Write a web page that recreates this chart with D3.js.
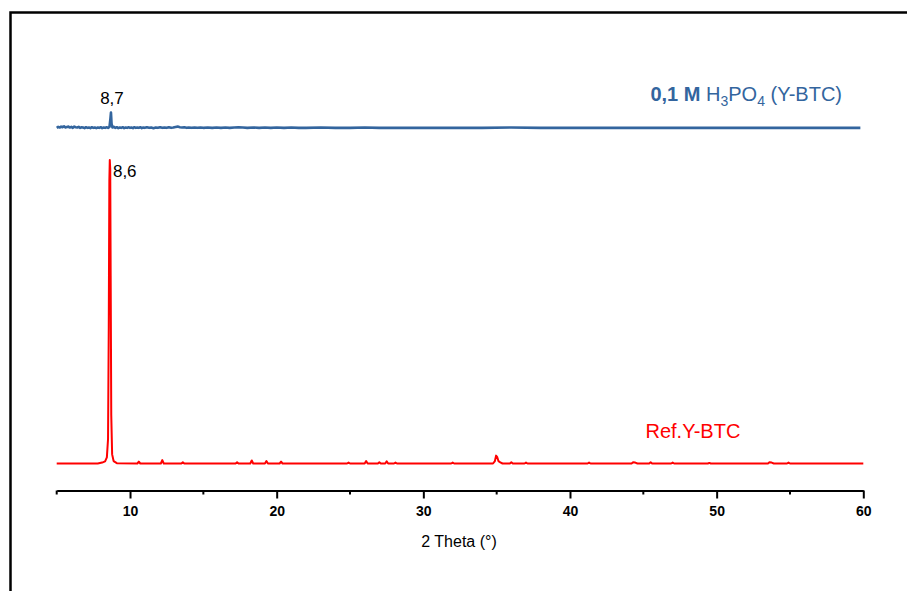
<!DOCTYPE html>
<html><head><meta charset="utf-8">
<script src="https://cdn.jsdelivr.net/npm/d3@7"></script>
<style>body{margin:0;background:#fff}svg{display:block}text{font-family:"Liberation Sans",Arial,sans-serif}</style>
</head><body>
<svg id="c" width="907" height="591"></svg>
<script>
// ---- data ----
const xTicks = [10, 20, 30, 40, 50, 60];
const xMinorTicks = [5, 15, 25, 35, 45, 55];
const xTitle = "2 Theta (°)";

// Ref.Y-BTC pattern (2θ, intensity)
const refTheta = [5, 7.8, 8.1, 8.3, 8.42, 8.5, 8.55, 8.59, 8.62, 8.65, 8.68, 8.72, 8.78, 8.88, 9.1,
  10.5, 10.6, 10.7, 12.1, 12.2, 12.3, 13.5, 13.6, 13.7, 17.2, 17.3, 17.4, 18.2, 18.3, 18.4,
  19.2, 19.3, 19.4, 20.2, 20.3, 20.4, 24.8, 24.9, 25.0, 26.0, 26.1, 26.2, 26.9, 27.0, 27.1,
  27.4, 27.5, 27.6, 28.0, 28.1, 28.2, 31.9, 32.0, 32.1, 34.75, 34.88, 34.96, 35.03, 35.12, 35.25, 35.4,
  35.9, 36.0, 36.1, 36.9, 37.0, 37.1, 41.2, 41.3, 41.4, 44.2, 44.3, 44.45, 44.6, 45.4, 45.5, 45.6,
  46.9, 47.0, 47.1, 49.4, 49.5, 49.6, 53.5, 53.6, 53.75, 53.9, 54.8, 54.9, 55.0, 60];
const refInt = [0, 0, 0.3, 0.7, 2, 8, 45, 93, 100, 97, 62, 16, 3, 0.8, 0.1,
  0, 0.6, 0, 0, 1.1, 0, 0, 0.4, 0, 0, 0.4, 0, 0, 1.0, 0,
  0, 0.8, 0, 0, 0.6, 0, 0, 0.3, 0, 0, 0.8, 0, 0, 0.4, 0,
  0, 0.7, 0, 0, 0.3, 0, 0, 0.3, 0, 0, 0.8, 2.6, 2.2, 0.8, 0.4, 0,
  0, 0.4, 0, 0, 0.3, 0, 0, 0.3, 0, 0, 0.4, 0.3, 0, 0, 0.4, 0,
  0, 0.3, 0, 0, 0.2, 0, 0, 0.4, 0.3, 0, 0, 0.3, 0, 0];

// 0,1 M H3PO4 (Y-BTC) pattern (2θ, intensity, offset stacked)
const acidTheta = [5, 5.1, 5.2, 5.3, 5.4, 5.5, 5.6, 5.7, 5.8, 5.9, 6.0, 6.1, 6.2, 6.3, 6.4, 6.5, 6.6, 6.7, 6.8, 6.9,
  7.0, 7.1, 7.2, 7.3, 7.4, 7.5, 7.6, 7.7, 7.8, 7.9, 8.0, 8.1, 8.2, 8.3, 8.4, 8.5, 8.6, 8.66, 8.7, 8.74, 8.8, 8.9,
  9.0, 9.1, 9.2, 9.3, 9.4, 9.5, 9.6, 9.7, 9.8, 9.9, 10.0, 10.1, 10.2, 10.3, 10.4, 10.5, 10.6, 10.7, 10.8, 10.9,
  11.0, 11.15, 11.3, 11.45, 11.6, 11.75, 11.9, 12.05, 12.2, 12.35, 12.5, 12.65, 12.8, 12.95, 13.1, 13.25, 13.4, 13.55, 13.7, 13.85,
  14.0, 14.2, 14.4, 14.6, 14.8, 15.0, 15.3, 15.6, 15.9, 16.2, 16.5, 16.8, 17.1, 17.4, 17.7, 18.0, 18.4, 18.8, 19.2, 19.6, 20.0,
  20.5, 21.0, 21.5, 22.0, 23.0, 24.0, 25.0, 26.0, 27.0, 28.0, 30.0, 32.0, 34.0, 36.0, 38.0, 40.0, 43.0, 46.0, 50.0, 54.0, 59.8];
const acidInt = [110.6, 110.9, 110.7, 111.0, 110.8, 111.1, 110.7, 110.9, 111.0, 110.7, 110.9, 110.6, 111.0, 110.8, 110.7, 110.9, 110.6, 110.8, 110.7, 110.5,
  110.8, 110.6, 110.7, 110.5, 110.8, 110.6, 110.7, 110.5, 110.7, 110.6, 110.8, 110.5, 110.7, 110.6, 110.8, 110.6, 110.9, 113.5, 115.6, 112.0, 110.7, 110.9,
  110.6, 110.8, 110.5, 110.7, 110.6, 110.8, 110.5, 110.7, 110.6, 110.8, 110.6, 110.7, 110.5, 110.8, 110.6, 110.7, 110.6, 110.8, 110.5, 110.7,
  110.6, 110.8, 110.6, 110.7, 110.5, 110.7, 110.6, 110.8, 110.6, 110.7, 110.6, 110.8, 110.6, 110.7, 110.9, 111.0, 110.8, 110.7, 110.8, 110.6,
  110.7, 110.6, 110.7, 110.6, 110.7, 110.6, 110.7, 110.6, 110.7, 110.6, 110.7, 110.6, 110.7, 110.8, 110.7, 110.6, 110.7, 110.6, 110.7, 110.6, 110.7,
  110.6, 110.7, 110.6, 110.6, 110.7, 110.6, 110.6, 110.7, 110.6, 110.6, 110.6, 110.6, 110.6, 110.7, 110.6, 110.6, 110.6, 110.6, 110.6, 110.6, 110.6];

const refPeakLabel = {theta: 8.63, text: "8,6"};
const acidPeakLabel = {theta: 8.7, text: "8,7"};

// ---- chart ----
const svg = d3.select("#c");
const x = d3.scaleLinear().domain([5, 60]).range([56.7, 863.3]);
const y = d3.scaleLinear().domain([0, 100]).range([463.5, 160]);

// outer frame
svg.append("rect").attr("x", 10.5).attr("y", 12.5).attr("width", 1000).attr("height", 1000)
  .attr("fill", "none").attr("stroke", "#000").attr("stroke-width", 2.5);

const line = d3.line().x(d => x(d[0])).y(d => y(d[1]));

svg.append("path").datum(refTheta.map((t, i) => [t, refInt[i]]))
  .attr("d", line).attr("fill", "none").attr("stroke", "#ff0000").attr("stroke-width", 2)
  .attr("stroke-linejoin", "round");

svg.append("path").datum(acidTheta.map((t, i) => [t, acidInt[i]]))
  .attr("d", line).attr("fill", "none").attr("stroke", "#33659e").attr("stroke-width", 2.6)
  .attr("stroke-linejoin", "round");

// axis
const axisY = 490.5;
const gx = svg.append("g").attr("transform", `translate(0,${axisY})`)
  .call(d3.axisBottom(x).tickValues(xTicks).tickSize(8).tickSizeOuter(0).tickPadding(8));
gx.select(".domain").attr("stroke", "#000").attr("stroke-width", 2);
gx.selectAll(".tick line").attr("stroke", "#000").attr("stroke-width", 2);
gx.selectAll(".tick text").attr("font-size", 14).attr("font-weight", "bold")
  .attr("font-family", "Liberation Sans, Arial, sans-serif").attr("fill", "#000");
svg.append("g").attr("transform", `translate(0,${axisY})`)
  .selectAll("line").data(xMinorTicks).join("line")
  .attr("x1", d => x(d)).attr("x2", d => x(d)).attr("y1", 0).attr("y2", 4)
  .attr("stroke", "#000").attr("stroke-width", 2);

svg.append("text").attr("x", 459).attr("y", 547.3).attr("text-anchor", "middle")
  .attr("font-size", 16).attr("fill", "#000").text(xTitle);

// peak labels
svg.append("text").attr("x", x(acidPeakLabel.theta) + 1).attr("y", 104.3).attr("text-anchor", "middle")
  .attr("font-size", 17).attr("fill", "#000").text(acidPeakLabel.text);
svg.append("text").attr("x", x(refPeakLabel.theta) + 3).attr("y", 177).attr("text-anchor", "start")
  .attr("font-size", 17).attr("fill", "#000").text(refPeakLabel.text);

// series labels
svg.append("text").attr("x", 645.5).attr("y", 437.7).attr("font-size", 20).attr("fill", "#ff0000").text("Ref.Y-BTC");

const t = svg.append("text").attr("x", 842).attr("y", 101).attr("text-anchor", "end")
  .attr("font-size", 20).attr("fill", "#33659e");
t.append("tspan").attr("font-weight", "bold").text("0,1 M");
t.append("tspan").text(" H");
t.append("tspan").attr("font-size", 14).attr("dy", 5).text("3");
t.append("tspan").attr("dy", -5).text("PO");
t.append("tspan").attr("font-size", 14).attr("dy", 5).text("4");
t.append("tspan").attr("dy", -5).text(" (Y-BTC)");
</script>
</body></html>
